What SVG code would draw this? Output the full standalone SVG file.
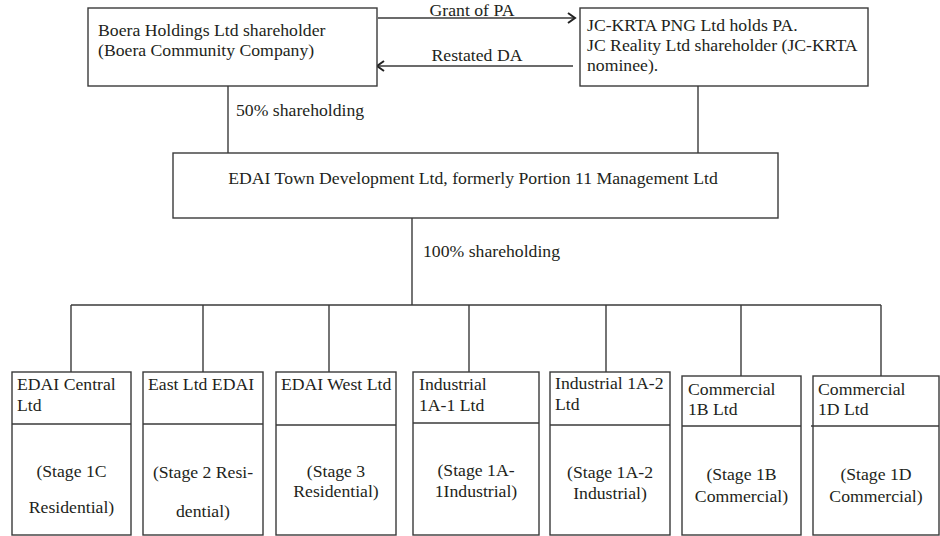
<svg xmlns="http://www.w3.org/2000/svg" width="940" height="536" viewBox="0 0 940 536" font-family="'Liberation Serif', 'DejaVu Serif', serif" font-size="17.7">
<defs>
<marker id="arr" markerWidth="12" markerHeight="12" refX="10" refY="6" orient="auto" markerUnits="userSpaceOnUse">
<path d="M3,1 L10,6 L3,11" fill="none" stroke="#222" stroke-width="2"/>
</marker>
<style>
.box{fill:#fff;stroke:#3a3a3a;stroke-width:1.4}
.ln{fill:none;stroke:#3a3a3a;stroke-width:1.4}
.t{font-family:'Liberation Serif','DejaVu Serif',serif;font-size:17.7px;fill:#231f20}
.c{text-anchor:middle}
</style>
</defs>
<rect width="940" height="536" fill="#fff"/>
<g id="connectors">
<line class="ln" x1="378" y1="18" x2="575" y2="18" marker-end="url(#arr)"/>
<line class="ln" x1="573" y1="66" x2="377" y2="66" marker-end="url(#arr)"/>
<line class="ln" x1="228" y1="86" x2="228" y2="153"/>
<line class="ln" x1="698" y1="86" x2="698" y2="153"/>
<line class="ln" x1="412" y1="218" x2="412" y2="305"/>
<line class="ln" x1="71" y1="305" x2="881" y2="305"/>
<line class="ln" x1="71" y1="305" x2="71" y2="372"/>
<line class="ln" x1="203" y1="305" x2="203" y2="372"/>
<line class="ln" x1="329" y1="305" x2="329" y2="372"/>
<line class="ln" x1="469" y1="305" x2="469" y2="372"/>
<line class="ln" x1="606" y1="305" x2="606" y2="372"/>
<line class="ln" x1="741" y1="305" x2="741" y2="376"/>
<line class="ln" x1="881" y1="305" x2="881" y2="376"/>
<text class="t c" x="472" y="15.5">Grant of PA</text>
<text class="t c" x="477" y="61">Restated DA</text>
<text class="t" x="236" y="116">50% shareholding</text>
<text class="t" x="423" y="257">100% shareholding</text>
</g>
<g id="boera">
<rect class="box" x="88" y="8" width="289" height="78"/>
<text class="t" x="98" y="36">Boera Holdings Ltd shareholder</text>
<text class="t" x="98" y="56">(Boera Community Company)</text>
</g>
<g id="jckrta">
<rect class="box" x="580" y="8" width="288" height="78"/>
<text class="t" x="587" y="31">JC-KRTA PNG Ltd holds PA.</text>
<text class="t" x="587" y="51">JC Reality Ltd shareholder (JC-KRTA</text>
<text class="t" x="587" y="71">nominee).</text>
</g>
<g id="edai-town">
<rect class="box" x="173" y="153" width="605" height="65"/>
<text class="t c" x="473" y="184">EDAI Town Development Ltd, formerly Portion 11 Management Ltd</text>
</g>
<g id="central">
<rect class="box" x="12" y="372" width="119" height="163"/>
<line class="ln" x1="12" y1="424" x2="131" y2="424"/>
<text class="t" x="17" y="390">EDAI Central</text>
<text class="t" x="17" y="411">Ltd</text>
<text class="t c" x="71.5" y="477">(Stage 1C</text>
<text class="t c" x="71.5" y="513">Residential)</text>
</g>
<g id="east">
<rect class="box" x="143" y="372" width="120" height="163"/>
<line class="ln" x1="143" y1="424" x2="263" y2="424"/>
<text class="t" x="148" y="390">East Ltd EDAI</text>
<text class="t c" x="203" y="478">(Stage 2 Resi-</text>
<text class="t c" x="203" y="517">dential)</text>
</g>
<g id="west">
<rect class="box" x="276" y="372" width="120" height="163"/>
<line class="ln" x1="276" y1="425" x2="396" y2="425"/>
<text class="t" x="281" y="390">EDAI West Ltd</text>
<text class="t c" x="336" y="477">(Stage 3</text>
<text class="t c" x="336" y="497">Residential)</text>
</g>
<g id="ind1a1">
<rect class="box" x="413" y="372" width="126" height="163"/>
<line class="ln" x1="413" y1="423" x2="539" y2="423"/>
<text class="t" x="419" y="390">Industrial</text>
<text class="t" x="419" y="411">1A-1 Ltd</text>
<text class="t c" x="476" y="476">(Stage 1A-</text>
<text class="t c" x="476" y="497">1Industrial)</text>
</g>
<g id="ind1a2">
<rect class="box" x="550" y="372" width="120" height="163"/>
<line class="ln" x1="550" y1="425" x2="670" y2="425"/>
<text class="t" x="555" y="389">Industrial 1A-2</text>
<text class="t" x="555" y="410">Ltd</text>
<text class="t c" x="610" y="478">(Stage 1A-2</text>
<text class="t c" x="610" y="499">Industrial)</text>
</g>
<g id="com1b">
<rect class="box" x="682" y="376" width="119" height="159"/>
<line class="ln" x1="682" y1="426" x2="801" y2="426"/>
<text class="t" x="688" y="395">Commercial</text>
<text class="t" x="688" y="415">1B Ltd</text>
<text class="t c" x="741.5" y="480">(Stage 1B</text>
<text class="t c" x="741.5" y="502">Commercial)</text>
</g>
<g id="com1d">
<rect class="box" x="813" y="376" width="126" height="159"/>
<line class="ln" x1="811" y1="426" x2="939" y2="426"/>
<text class="t" x="818" y="395">Commercial</text>
<text class="t" x="818" y="415">1D Ltd</text>
<text class="t c" x="876" y="480">(Stage 1D</text>
<text class="t c" x="876" y="502">Commercial)</text>
</g>
</svg>
